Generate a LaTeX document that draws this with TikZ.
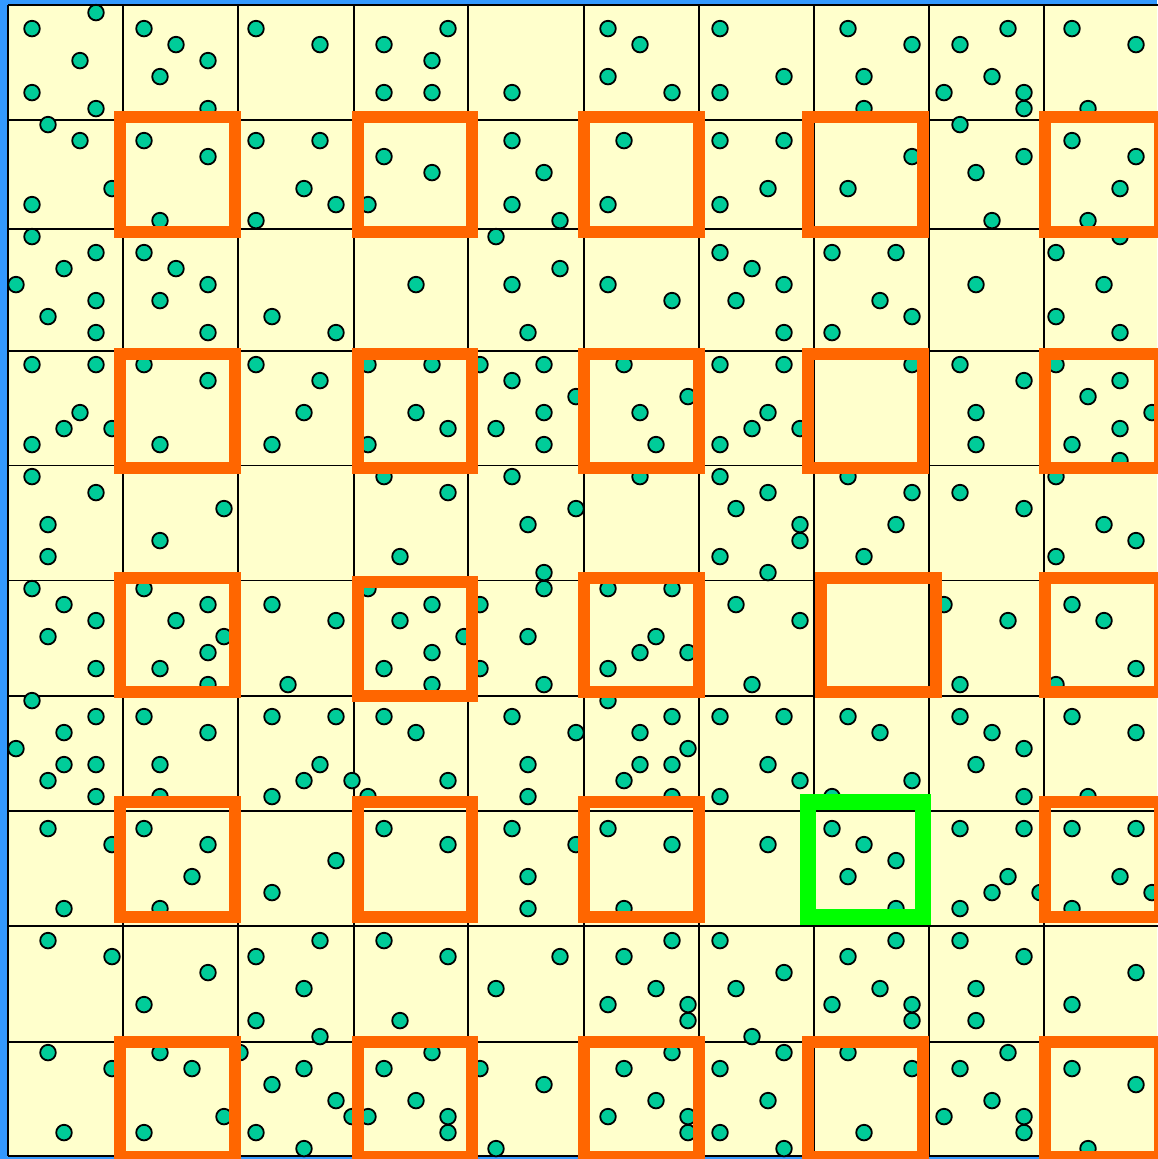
\documentclass[tikz,border=0pt]{standalone}
\usepackage{tikz}
\definecolor{bgyellow}{HTML}{FFFFCC}
\definecolor{dotgreen}{HTML}{00CC99}
\definecolor{sqorange}{HTML}{FF6600}
\definecolor{sqgreen}{HTML}{00FF00}
\definecolor{frameblue}{HTML}{3399FF}
\tikzset{
  gridline/.style={line width=1.8pt, black},
  dotstyle/.style={fill=dotgreen, draw=black, line width=1.8pt},
  osq/.style={draw=sqorange, line width=12pt, line join=miter},
  gsq/.style={draw=sqgreen, line width=16pt, line join=miter}
}
\begin{document}
\begin{tikzpicture}[x=1pt,y=-1pt]
\useasboundingbox (0,0) rectangle (1157,1159);
% frame and background
\fill[frameblue] (0,0) rectangle (1157,1159);
\fill[bgyellow] (8,5) rectangle (1157,1156.3);
% grid
\foreach \gx in {8,123.3,238.3,354,468.3,584,699,814.3,929.3,1044.3}
  \draw[gridline] (\gx,5) -- (\gx,1156.3);
\foreach \gy in {5,120,229,350.7,465.5,580.5,696,811.3,926,1041.7,1156.3}
  \draw[gridline] (8,\gy) -- (1160,\gy);
% dots
\begin{scope}[yshift=-0.6pt]
\foreach \dx/\dy in {
32/28, 96/12, 80/60, 32/92, 96/108, 144/28, 176/44, 208/60, 160/76, 208/108, 256/28, 320/44, 384/44, 448/28, 432/60, 384/92, 432/92, 512/92, 608/28, 640/44, 608/76, 672/92, 720/28, 784/76, 720/92, 848/28, 912/44, 864/76, 864/108, 960/44, 1008/28, 992/76, 944/92, 1024/92, 1024/108, 1072/28, 1136/44, 1088/108,
48/124, 80/140, 112/188, 32/204, 144/140, 208/156, 160/220, 256/140, 320/140, 304/188, 336/204, 256/220, 368/204, 384/156, 432/172, 512/140, 544/172, 512/204, 560/220, 624/140, 608/204, 720/140, 768/188, 720/204, 784/140, 848/188, 912/156, 960/124, 1024/156, 976/172, 992/220, 1072/140, 1136/156, 1120/188, 1088/220,
32/236, 96/252, 64/268, 16/284, 96/300, 48/316, 96/332, 144/252, 176/268, 208/284, 160/300, 208/332, 272/316, 336/332, 416/284, 496/236, 560/268, 512/284, 528/332, 608/284, 672/300, 720/252, 752/268, 736/300, 784/284, 784/332, 832/252, 896/252, 880/300, 912/316, 832/332, 976/284, 1056/252, 1120/236, 1104/284, 1056/316, 1120/332,
32/364, 96/364, 144/364, 208/380, 80/412, 64/428, 112/428, 32/444, 160/444, 256/364, 320/380, 304/412, 272/444, 368/364, 368/444, 432/364, 416/412, 448/428, 480/364, 512/380, 544/364, 544/412, 496/428, 544/444, 576/396, 624/364, 640/412, 688/396, 656/444, 720/364, 784/364, 768/412, 752/428, 720/444, 800/428, 912/364, 960/364, 976/412, 976/444, 1024/380, 1056/364, 1120/380, 1088/396, 1152/412, 1120/428, 1072/444, 1120/460,
32/476, 96/492, 48/524, 48/556, 224/508, 160/540, 384/476, 448/492, 400/556, 512/476, 576/508, 528/524, 544/572, 640/476, 720/476, 768/492, 736/508, 720/556, 768/572, 800/524, 800/540, 848/476, 912/492, 896/524, 864/556, 960/492, 1024/508, 1056/476, 1104/524, 1136/540, 1056/556,
32/588, 64/604, 96/620, 48/636, 96/668, 144/588, 208/604, 176/620, 224/636, 208/652, 160/668, 208/684, 272/604, 336/620, 288/684, 368/588, 384/668, 432/604, 400/620, 464/636, 432/652, 432/684, 480/604, 528/636, 480/668, 544/684, 544/588, 608/588, 672/588, 656/636, 640/652, 688/652, 608/668, 736/604, 752/684, 800/620, 944/604, 1008/620, 960/684, 1072/604, 1104/620, 1136/668, 1056/684,
32/700, 96/716, 64/732, 16/748, 64/764, 96/764, 48/780, 96/796, 144/716, 208/732, 160/764, 160/796, 272/716, 336/716, 320/764, 304/780, 352/780, 272/796, 368/796, 384/716, 416/732, 448/780, 512/716, 576/732, 528/764, 528/796, 608/700, 672/716, 640/732, 688/748, 640/764, 672/764, 624/780, 672/796, 720/716, 768/764, 720/796, 784/716, 800/780, 848/716, 880/732, 912/780, 832/796, 960/716, 992/732, 1024/748, 976/764, 1024/796, 1072/716, 1136/732, 1088/796,
48/828, 112/844, 64/908, 144/828, 208/844, 192/876, 160/908, 336/860, 272/892, 384/828, 448/844, 512/828, 576/844, 528/876, 528/908, 608/828, 672/844, 624/908, 768/844, 832/828, 864/844, 896/860, 848/876, 896/908, 960/828, 1024/828, 1008/876, 992/892, 960/908, 1040/892, 1072/828, 1136/828, 1120/876, 1152/892, 1072/908,
48/940, 112/956, 208/972, 144/1004, 256/956, 320/940, 304/988, 256/1020, 320/1036, 384/940, 448/956, 400/1020, 560/956, 496/988, 672/940, 624/956, 656/988, 608/1004, 688/1004, 688/1020, 720/940, 736/988, 752/1036, 784/972, 896/940, 848/956, 880/988, 832/1004, 912/1004, 912/1020, 960/940, 1024/956, 976/988, 976/1020, 1136/972, 1072/1004,
48/1052, 112/1068, 64/1132, 160/1052, 192/1068, 224/1116, 144/1132, 240/1052, 304/1068, 272/1084, 336/1100, 352/1116, 368/1116, 256/1132, 304/1148, 384/1068, 432/1052, 416/1100, 448/1116, 448/1132, 480/1068, 544/1084, 496/1148, 624/1068, 672/1052, 656/1100, 608/1116, 688/1116, 688/1132, 720/1068, 768/1100, 720/1132, 784/1052, 784/1148, 848/1052, 912/1068, 864/1132, 1008/1052, 960/1068, 992/1100, 944/1116, 1024/1116, 1024/1132, 1072/1068, 1136/1084, 1088/1148}
  \draw[dotstyle] (\dx,\dy) circle[radius=7.8pt];
\end{scope}
% orange squares
\foreach \ya/\yb in {117/231.7, 354/468.3, 802/916.7, 1042/1156.7} {
  \draw[osq] (120,\ya) rectangle (235,\yb);
  \draw[osq] (357.7,\ya) rectangle (471.7,\yb);
  \draw[osq] (584.3,\ya) rectangle (699,\yb);
  \draw[osq] (1045.3,\ya) rectangle (1159.7,\yb);
}
\draw[osq] (808,117) rectangle (923.3,231.7);
\draw[osq] (808,354) rectangle (923.3,468.3);
\draw[osq] (808,1042) rectangle (923.3,1156.7);
% row 6
\draw[osq] (120,578.3) rectangle (235,692.3);
\draw[osq] (357.7,581.7) rectangle (471.7,695.7);
\draw[osq] (584.3,578.3) rectangle (699,692.3);
\draw[osq] (821.3,578.3) rectangle (936,692.3);
\draw[osq] (1045.3,578.3) rectangle (1159.7,692.3);
% green square
\draw[gsq] (808,802) rectangle (922.7,916.7);
\end{tikzpicture}
\end{document}
